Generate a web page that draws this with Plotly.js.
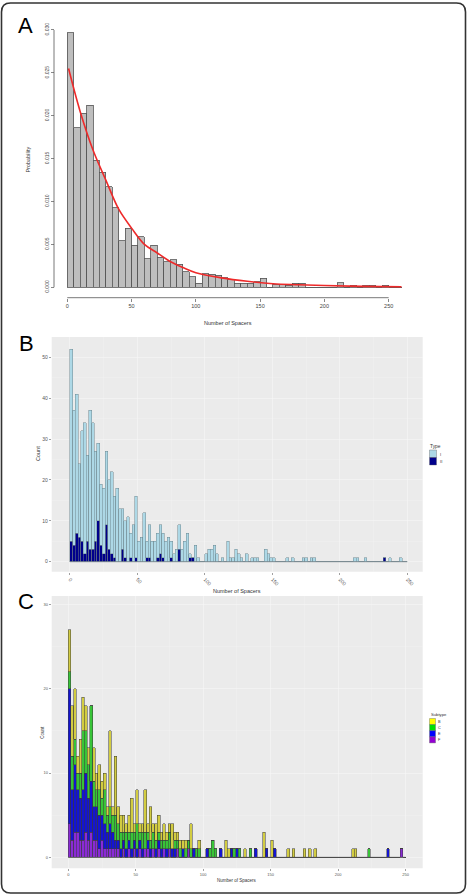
<!DOCTYPE html>
<html>
<head>
<meta charset="utf-8">
<script src="https://cdn.plot.ly/plotly-3.0.1.min.js"></script>
<style>
html, body { margin: 0; padding: 0; background: #fff; }
#fig { width: 467px; height: 895px; }
</style>
</head>
<body>
<div id="fig"></div>
<script>
// ---------- Panel A: density of spacer counts (bins of 5) ----------
const aBinStart = 0;
const aBinWidth = 5;
const aDensity = [
  0.0297, 0.0186, 0.0203, 0.0212, 0.0148, 0.0134, 0.0117, 0.0093, 0.0054, 0.0069,
  0.0049, 0.0059, 0.0033, 0.0049, 0.0035, 0.0030, 0.0032, 0.0027, 0.0018, 0.0012,
  0.00047, 0.0016, 0.0015, 0.0014, 0.0011, 0.00085, 0.00047, 0.00047, 0.00047, 0.00065,
  0.00105, 0, 0.00035, 0.00035, 0.00023, 0.00047, 0.00047, 0, 0, 0,
  0, 0, 0.0005, 0, 0.00023, 0, 0.00023, 0.00023, 0, 0.00023,
  0, 0
];
// fitted curve read along its length
const aFitX = [1, 10, 20, 30, 40, 50, 60, 70, 80, 90, 100, 120, 140, 160, 180, 200, 230, 260];
const aFitY = [0.0255, 0.0205, 0.0160, 0.0125, 0.0091, 0.0069, 0.0050, 0.0040, 0.0030, 0.0023,
               0.0017, 0.0011, 0.0007, 0.00042, 0.0003, 0.0002, 0.00011, 0.00007];
const aXTicks = [0, 50, 100, 150, 200, 250];
const aYTicks = [0, 0.005, 0.010, 0.015, 0.020, 0.025, 0.030];
const aYTickText = ['0.000', '0.005', '0.010', '0.015', '0.020', '0.025', '0.030'];

// ---------- Panel B: counts by CRISPR type (bins of 2) ----------
const bBinStart = 0;
const bBinWidth = 2;
const typeNames = ['I', 'II'];
const bTypeI = [
  47, 33, 34, 18, 27, 32, 21, 34, 31, 22,
  19, 15, 16, 18, 17, 20, 15, 18, 13, 10,
  9, 11, 6, 9, 15, 5, 6, 12, 4, 8,
  5, 5, 6, 7, 6, 5, 6, 4, 2, 3,
  6, 3, 5, 7, 1, 0, 4, 1, 0, 0,
  2, 3, 3, 4, 2, 0, 1, 0, 5, 1,
  1, 3, 2, 1, 0, 2, 0, 1, 1, 1,
  0, 0, 3, 2, 1, 1, 0, 0, 0, 0,
  1, 0, 1, 0, 0, 0, 1, 1, 0, 1,
  1, 0, 0, 0, 0, 0, 0, 0, 0, 0,
  0, 0, 0, 0, 0, 1, 1, 0, 0, 1,
  0, 0, 0, 0, 0, 0, 0, 0, 1, 0,
  0, 0, 1, 0, 0
];
const bTypeII = [
  5, 4, 7, 6, 5, 2, 5, 3, 3, 5,
  10, 4, 2, 9, 3, 2, 1, 0, 0, 3,
  1, 0, 1, 0, 1, 0, 0, 0, 1, 1,
  0, 0, 1, 2, 1, 0, 0, 1, 0, 0,
  3, 0, 0, 0, 1, 1, 0, 0, 0, 0,
  0, 0, 0, 0, 0, 0, 0, 0, 0, 0,
  0, 0, 0, 0, 0, 0, 0, 0, 0, 0,
  0, 0, 0, 0, 0, 0, 0, 0, 0, 0,
  0, 0, 0, 0, 0, 0, 0, 0, 0, 0,
  0, 0, 0, 0, 0, 0, 0, 0, 0, 0,
  0, 0, 0, 0, 0, 0, 0, 0, 0, 0,
  0, 0, 0, 0, 0, 0, 1, 0, 0, 0,
  0, 0, 0, 0, 0
];
const bXTicks = [0, 50, 100, 150, 200, 250];
const bYTicks = [0, 10, 20, 30, 40, 50];

// ---------- Panel C: counts by subtype (bins of 2) ----------
const cBinStart = 0;
const cBinWidth = 2;
const subtypeNames = ['B', 'C', 'E', 'F'];   // yellow, green, blue, purple
const cSubF = [
  4, 2, 3, 3, 2, 2, 3, 2, 3, 2,
  2, 1, 2, 1, 1, 1, 1, 1, 1, 0,
  1, 0, 1, 0, 1, 0, 1, 0, 1, 1,
  0, 1, 0, 1, 0, 1, 0, 1, 0, 0,
  1, 0, 0, 0, 1, 0, 0, 0, 0, 0,
  0, 0, 0, 0, 0, 0, 0, 0, 0, 0,
  0, 0, 0, 0, 0, 0, 0, 0, 0, 0,
  0, 0, 0, 0, 0, 0, 0, 0, 0, 0,
  0, 0, 0, 0, 0, 0, 0, 0, 0, 0,
  0, 0, 0, 0, 0, 0, 0, 0, 0, 0,
  0, 0, 0, 0, 0, 0, 0, 0, 0, 0,
  0, 0, 0, 0, 0, 0, 0, 0, 0, 0,
  0, 0, 0, 1, 0
];
const cSubE = [
  16, 6, 8, 5, 5, 6, 7, 5, 6, 4,
  4, 4, 3, 3, 2, 3, 2, 1, 1, 1,
  1, 1, 1, 1, 1, 1, 1, 1, 0, 1,
  1, 0, 1, 1, 1, 0, 1, 0, 1, 1,
  0, 0, 1, 0, 0, 0, 1, 0, 0, 0,
  0, 1, 0, 0, 0, 0, 1, 0, 0, 0,
  1, 0, 1, 0, 0, 0, 0, 0, 0, 1,
  0, 0, 0, 1, 0, 0, 1, 0, 0, 0,
  0, 0, 0, 0, 0, 0, 0, 0, 0, 0,
  0, 0, 0, 0, 0, 0, 0, 0, 0, 0,
  0, 0, 0, 0, 0, 0, 0, 0, 0, 0,
  0, 0, 0, 0, 0, 0, 0, 0, 1, 0,
  0, 0, 0, 0, 0
];
const cSubC = [
  2, 4, 3, 2, 3, 7, 5, 4, 9, 3,
  2, 3, 2, 4, 2, 2, 2, 3, 2, 2,
  1, 2, 1, 2, 1, 3, 1, 2, 2, 1,
  1, 2, 1, 1, 1, 1, 1, 2, 0, 1,
  1, 1, 0, 1, 1, 1, 0, 1, 1, 0,
  0, 0, 1, 2, 1, 0, 0, 0, 0, 0,
  0, 1, 0, 1, 0, 0, 0, 1, 0, 0,
  0, 0, 0, 0, 0, 0, 0, 0, 0, 0,
  0, 0, 0, 0, 0, 0, 0, 0, 0, 0,
  0, 0, 0, 0, 0, 0, 0, 0, 0, 0,
  0, 0, 0, 0, 0, 0, 0, 0, 0, 0,
  0, 1, 0, 0, 0, 0, 0, 0, 0, 0,
  0, 0, 0, 0, 0
];
const cSubB = [
  5, 6, 6, 2, 4, 4, 3, 2, 0, 4,
  2, 3, 2, 2, 1, 9, 1, 7, 2, 2,
  2, 1, 2, 4, 1, 4, 1, 1, 5, 1,
  4, 1, 2, 2, 1, 2, 1, 1, 3, 1,
  1, 1, 1, 1, 0, 3, 0, 0, 1, 0,
  0, 0, 0, 0, 0, 0, 0, 0, 2, 1,
  0, 0, 0, 0, 0, 1, 0, 0, 0, 0,
  0, 0, 3, 0, 0, 2, 0, 0, 0, 0,
  0, 1, 0, 1, 0, 0, 0, 1, 0, 1,
  0, 1, 0, 0, 0, 0, 0, 0, 0, 0,
  0, 0, 0, 0, 0, 1, 1, 0, 0, 0,
  0, 0, 0, 0, 0, 0, 0, 0, 0, 0,
  0, 0, 0, 0, 0
];
const cXTicks = [0, 50, 100, 150, 200, 250];
const cYTicks = [0, 10, 20, 30];

// ---------- helpers ----------
const W = 467, H = 895;
const fx = px => px / W;          // pixel -> paper x
const fy = py => 1 - py / H;      // pixel -> paper y
const centers = (start, width, n) => Array.from({length: n}, (_, i) => start + width * (i + 0.5));
const FONT = 'Liberation Sans, Arial, Helvetica, sans-serif';

const aX = centers(aBinStart, aBinWidth, aDensity.length);
const bX = centers(bBinStart, bBinWidth, bTypeI.length);
const cX = centers(cBinStart, cBinWidth, cSubB.length);

function bars(x, y, width, fill, edge, edgeW, xa, ya, name) {
  return {
    type: 'bar', x: x, y: y, width: width, name: name,
    xaxis: xa, yaxis: ya,
    marker: {color: fill, line: {color: edge, width: edgeW}},
    hoverinfo: 'x+y'
  };
}

const traces = [
  bars(aX, aDensity, aBinWidth, '#BEBEBE', '#555555', 0.8, 'x', 'y', 'Spacers'),
  {type: 'scatter', mode: 'lines', x: aFitX, y: aFitY, xaxis: 'x', yaxis: 'y',
   line: {color: '#EE2A2A', width: 1.6, shape: 'spline', smoothing: 1}},

  bars(bX, bTypeII, bBinWidth, '#00008B', '#6F7F86', 0.5, 'x2', 'y2', typeNames[1]),
  bars(bX, bTypeI, bBinWidth, '#ADD8E6', '#6F8790', 0.5, 'x2', 'y2', typeNames[0]),

  bars(cX, cSubF, cBinWidth, '#8A2BD6', '#3A3A3A', 0.5, 'x3', 'y3', subtypeNames[3]),
  bars(cX, cSubE, cBinWidth, '#1414D2', '#3A3A3A', 0.5, 'x3', 'y3', subtypeNames[2]),
  bars(cX, cSubC, cBinWidth, '#38C438', '#3A3A3A', 0.5, 'x3', 'y3', subtypeNames[1]),
  bars(cX, cSubB, cBinWidth, '#D2CC42', '#3A3A3A', 0.5, 'x3', 'y3', subtypeNames[0])
];

// ---------- axes ----------
const GRID = '#F6F6F6';
const ggTick = {ticks: 'outside', ticklen: 2, tickwidth: 0.5, tickcolor: '#444',
                showline: false, zeroline: false, showgrid: true, gridcolor: GRID, gridwidth: 0.6};
const minorGrid = vals => ({tickmode: 'array', tickvals: vals, showgrid: true, gridcolor: GRID, gridwidth: 0.3});

const layout = {
  width: W, height: H,
  margin: {l: 0, r: 0, t: 0, b: 0},
  paper_bgcolor: '#FFFFFF',
  plot_bgcolor: 'rgba(0,0,0,0)',
  showlegend: false,
  barmode: 'stack',
  bargap: 0,
  font: {family: FONT, color: '#333'},

  // Panel A (base-graphics style, detached axes)
  xaxis: {domain: [fx(57), fx(405)], range: [-8.0, 262.7], anchor: 'free', position: fy(297.7),
          tickmode: 'array', tickvals: aXTicks, ticks: 'outside', ticklen: 3, tickwidth: 0.7,
          tickcolor: '#555', tickfont: {size: 5.5, color: '#444'}, showline: false,
          showgrid: false, zeroline: false},
  yaxis: {domain: [fy(295), fy(25)], range: [-0.0009, 0.03058], anchor: 'free', position: fx(54),
          tickmode: 'array', tickvals: aYTicks, ticktext: aYTickText, tickangle: -90,
          ticks: 'outside', ticklen: 3, tickwidth: 0.7, tickcolor: '#555',
          tickfont: {size: 5, color: '#444'}, showline: false, showgrid: false, zeroline: false},

  // Panel B
  xaxis2: Object.assign({}, ggTick, {domain: [fx(51.7), fx(422.7)], range: [-13.5, 261.3], anchor: 'y2',
          tickmode: 'array', tickvals: bXTicks, tickangle: 45, tickfont: {size: 5, color: '#555'},
          minor: minorGrid([25, 75, 125, 175, 225])}),
  yaxis2: Object.assign({}, ggTick, {domain: [fy(571.7), fy(337)], range: [-2.44, 54.94], anchor: 'x2',
          tickmode: 'array', tickvals: bYTicks, tickfont: {size: 5, color: '#555'},
          minor: minorGrid([5, 15, 25, 35, 45])}),

  // Panel C
  xaxis3: Object.assign({}, ggTick, {domain: [fx(51.7), fx(422.7)], range: [-12.3, 262.7], anchor: 'y3',
          tickmode: 'array', tickvals: cXTicks, tickfont: {size: 4, color: '#555'},
          minor: minorGrid([25, 75, 125, 175, 225])}),
  yaxis3: Object.assign({}, ggTick, {domain: [fy(868.3), fy(596)], range: [-1.3, 31], anchor: 'x3',
          tickmode: 'array', tickvals: cYTicks, tickfont: {size: 4, color: '#555'},
          minor: minorGrid([5, 15, 25])})
};

// ---------- shapes: panel backgrounds, axis lines, baselines, legend keys, frame ----------
const bBinEnd = bBinStart + bBinWidth * bTypeI.length;
const cBinEnd = cBinStart + cBinWidth * cSubB.length;

const rx = 9 / W, ry = 9 / H;
const L = fx(1.5), R = fx(465.5), T = fy(3), B = fy(893);
const framePath = `M${L + rx},${T} L${R - rx},${T} Q${R},${T} ${R},${T - ry} L${R},${B + ry} ` +
                  `Q${R},${B} ${R - rx},${B} L${L + rx},${B} Q${L},${B} ${L},${B + ry} ` +
                  `L${L},${T - ry} Q${L},${T} ${L + rx},${T} Z`;

const keyRect = (x0, y0, x1, y1, fill) => ({type: 'rect', xref: 'paper', yref: 'paper',
  x0: fx(x0), x1: fx(x1), y0: fy(y1), y1: fy(y0), fillcolor: fill, line: {color: '#666', width: 0.4}});

layout.shapes = [
  {type: 'rect', xref: 'x2 domain', yref: 'y2 domain', x0: 0, x1: 1, y0: 0, y1: 1,
   fillcolor: '#EBEBEB', line: {width: 0}, layer: 'below'},
  {type: 'rect', xref: 'x3 domain', yref: 'y3 domain', x0: 0, x1: 1, y0: 0, y1: 1,
   fillcolor: '#EBEBEB', line: {width: 0}, layer: 'below'},
  // panel A axis lines spanning the first to the last tick
  {type: 'line', xref: 'x', yref: 'paper', x0: aXTicks[0], x1: aXTicks[aXTicks.length - 1],
   y0: fy(297.7), y1: fy(297.7), line: {color: '#555', width: 0.8}},
  {type: 'line', xref: 'paper', yref: 'y', x0: fx(54), x1: fx(54),
   y0: aYTicks[0], y1: aYTicks[aYTicks.length - 1], line: {color: '#555', width: 0.8}},
  // zero-count baselines of the histograms
  {type: 'line', xref: 'x2', yref: 'y2', x0: bBinStart, x1: bBinEnd, y0: 0, y1: 0,
   line: {color: '#7F8C92', width: 0.8}},
  {type: 'line', xref: 'x3', yref: 'y3', x0: cBinStart, x1: cBinEnd, y0: 0, y1: 0,
   line: {color: '#555', width: 0.8}},
  // legend keys
  keyRect(429.5, 450, 436.5, 457.5, '#ADD8E6'),
  keyRect(429.5, 457.5, 436.5, 465, '#00008B'),
  keyRect(429.5, 718.5, 435.5, 724.6, '#FFFF00'),
  keyRect(429.5, 724.6, 435.5, 730.7, '#00E000'),
  keyRect(429.5, 730.7, 435.5, 736.8, '#0000FF'),
  keyRect(429.5, 736.8, 435.5, 742.9, '#9400D3'),
  // outer frame
  {type: 'path', xref: 'paper', yref: 'paper', path: framePath, line: {color: '#333', width: 1.6}}
];

// ---------- text ----------
const txt = (text, x, y, size, opts) => Object.assign({
  text: text, xref: 'paper', yref: 'paper', x: fx(x), y: fy(y), showarrow: false,
  xanchor: 'center', yanchor: 'middle', font: {family: FONT, size: size, color: '#333'}, borderpad: 0
}, opts || {});

layout.annotations = [
  txt('A', 17, 25.5, 22, {xanchor: 'left', font: {family: FONT, size: 22, color: '#000'}}),
  txt('B', 18, 343, 22, {xanchor: 'left', font: {family: FONT, size: 22, color: '#000'}}),
  txt('C', 17, 601, 22, {xanchor: 'left', font: {family: FONT, size: 22, color: '#000'}}),

  txt('Number of Spacers', 228, 323.5, 5.5),
  txt('Probability', 27.5, 160, 5.5, {textangle: -90}),

  txt('Number of Spacers', 237, 590.5, 5.5),
  txt('Count', 38, 454, 5.5, {textangle: -90}),

  txt('Number of Spacers', 236.7, 880, 4.5),
  txt('Count', 41.7, 732, 4.5, {textangle: -90}),

  txt('Type', 429, 446.5, 4.8, {xanchor: 'left'}),
  txt(typeNames[0], 438.5, 454, 4.2, {xanchor: 'left'}),
  txt(typeNames[1], 438.5, 461.5, 4.2, {xanchor: 'left'}),

  txt('Subtype', 429.5, 714.5, 4.2, {xanchor: 'left'}),
  txt(subtypeNames[0], 437, 721.5, 3.8, {xanchor: 'left'}),
  txt(subtypeNames[1], 437, 727.7, 3.8, {xanchor: 'left'}),
  txt(subtypeNames[2], 437, 733.8, 3.8, {xanchor: 'left'}),
  txt(subtypeNames[3], 437, 739.9, 3.8, {xanchor: 'left'})
];

Plotly.newPlot('fig', traces, layout, {staticPlot: true, displayModeBar: false});
</script>
</body>
</html>
